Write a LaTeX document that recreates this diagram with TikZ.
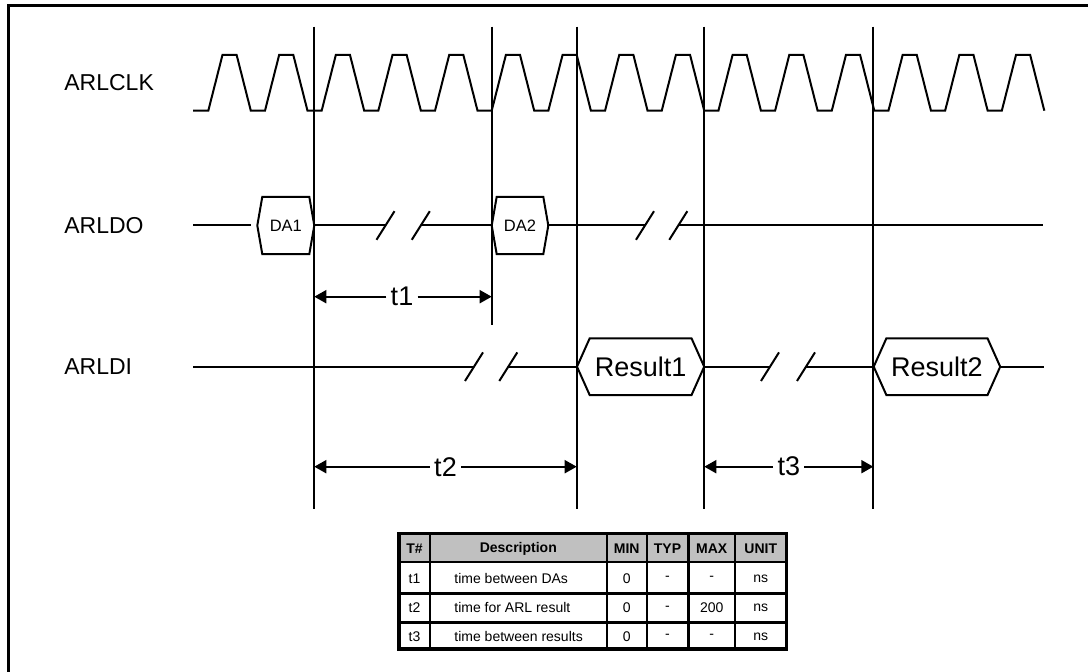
\documentclass[tikz,border=0pt]{standalone}
\usepackage{fontspec}
\setmainfont{Liberation Sans}
\usetikzlibrary{arrows.meta}
\definecolor{hdrgray}{HTML}{C0C0C0}

\begin{document}
\begin{tikzpicture}[x=0.5pt,y=-0.5pt,
		sig/.style={line width=1pt},
		dimarr/.style={line width=1pt,-{Triangle[length=6pt,width=6.5pt]}},
		lbl/.style={anchor=west,inner sep=0pt,font=\fontsize{11.5}{12}\selectfont},
		tlbl/.style={inner xsep=2pt,inner ysep=0pt,font=\fontsize{13.5}{14}\selectfont},
		tline/.style={line width=1.2pt},
		tcell/.style={inner sep=0pt,font=\fontsize{7}{8}\selectfont}]
		\useasboundingbox (0,0) rectangle (1088,672);
		\clip (0,0) rectangle (1088,672);
		%frame
			\draw[line width=1.5pt] (1100,6) -- (8,6) -- (8,690);
			
		%signal names
			\node[lbl] (clk) at (64,83) {ARLCLK};
			\node[lbl] (do) at (64,225.5) {ARLDO};
			\node[lbl] (di) at (64,366.7) {ARLDI};
			
		%clock
			\draw[sig] (193,110.7) -- (208.3,110.7)
				\foreach \k in {1,...,14}{ -- ++(14.17,-55.7) -- ++(14.17,0) -- ++(14.17,55.7) -- ++(14.17,0)}
				-- ++(14.17,-55.7) -- ++(14.17,0) -- ++(14.17,55.7);
			
		%reference lines
			\foreach \n/\x/\yb in {v1/314.3/509, v2/491.7/325, v3/576.7/509, v4/704.3/509, v5/873.3/509}{
				\coordinate (\n-top) at (\x,26.7);
				\coordinate (\n-bot) at (\x,\yb);
				\draw[sig] (\n-top) -- (\n-bot);
			}
			
		%data boxes
			\foreach \n/\xl/\xr/\yc/\hh/\sl/\fs/\txt in {da1/257.3/314.3/225.5/28.7/5/8.25/DA1, da2/491.7/548.3/225.5/28.7/5/8.25/DA2, res1/577/704.2/366.7/28.4/12.7/13.5/Result1, res2/873.7/1000.2/366.7/28.4/12.7/13.5/Result2}{
				\coordinate (\n-l) at (\xl,\yc);
				\coordinate (\n-r) at (\xr,\yc);
				\draw[sig] (\n-l) -- (\xl+\sl,\yc-\hh) -- (\xr-\sl,\yc-\hh) -- (\n-r) -- (\xr-\sl,\yc+\hh) -- (\xl+\sl,\yc+\hh) -- cycle;
				\node[inner sep=0pt] (\n) at ({(\xl+\xr)/2},\yc) {\fontsize{\fs}{\fs}\selectfont\txt};
			}
			
		%ARLDO
			\coordinate (do-start) at (193.3,225.5);
			\coordinate (do-end) at (1043,225.5);
			\coordinate (dob1) at (385.5,225.5);
			\coordinate (dob2) at (420.8,225.5);
			\coordinate (dob3) at (645,225.5);
			\coordinate (dob4) at (678.3,225.5);
			\draw[sig,shorten >=3pt] (do-start) -- (da1-l);
			\draw[sig] (da1-r) -- (dob1);
			\draw[sig] (dob2) -- (da2-l);
			\draw[sig] (da2-r) -- (dob3);
			\draw[sig] (dob4) -- (do-end);
			
		%ARLDI
			\coordinate (di-start) at (193.3,366.7);
			\coordinate (di-end) at (1044,366.7);
			\coordinate (dib1) at (474,366.7);
			\coordinate (dib2) at (508.3,366.7);
			\coordinate (dib3) at (770,366.7);
			\coordinate (dib4) at (806,366.7);
			\draw[sig] (di-start) -- (dib1);
			\draw[sig] (dib2) -- (res1-l);
			\draw[sig] (res1-r) -- (dib3);
			\draw[sig] (dib4) -- (res2-l);
			\draw[sig] (res2-r) -- (di-end);
			
		%breaks
			\foreach \c in {dob1,dob2,dob3,dob4,dib1,dib2,dib3,dib4}{
				\draw[sig] ([shift={(-9,14.3)}]\c) -- ([shift={(9,-14.3)}]\c);
			}
			
		%timing arrows
			\node[tlbl] (t1) at (402,296.7) {t1};
			\draw[dimarr] (t1) -- (v1-top |- t1);
			\draw[dimarr] (t1) -- (v2-top |- t1);
			\node[tlbl] (t2) at (445.5,466.7) {t2};
			\draw[dimarr] (t2) -- (v1-top |- t2);
			\draw[dimarr] (t2) -- (v3-top |- t2);
			\node[tlbl] (t3) at (788.8,466.7) {t3};
			\draw[dimarr] (t3) -- (v4-top |- t3);
			\draw[dimarr] (t3) -- (v5-top |- t3);
			
		%table
			\fill[hdrgray] (399,533.5) rectangle (786.7,562);
			\foreach \x in {430,606.7,646.7,688.3,735}{
				\draw[tline] (\x,533.5) -- (\x,649);
			}
			\foreach \y in {562,593.5,622.5}{
				\draw[tline] (399,\y) -- (786.7,\y);
			}
			\draw[line width=1.6pt] (399,533.5) rectangle (786.7,649);
			
			\node[tcell] (h1) at (414.5,549) {\bfseries T\#};
			\node[tcell] (h2) at (518.3,549) {\bfseries Description};
			\node[tcell] (h3) at (626.7,549) {\bfseries MIN};
			\node[tcell] (h4) at (667.5,549) {\bfseries TYP};
			\node[tcell] (h5) at (711.7,549) {\bfseries MAX};
			\node[tcell] (h6) at (760.8,549) {\bfseries UNIT};
			
			\foreach \r/\y/\tn/\desc/\mn/\ty/\mx/\un in {1/578.5/t1/time between DAs/0/-/-/ns, 2/608/t2/time for ARL result/0/-/200/ns, 3/636.5/t3/time between results/0/-/-/ns}{
				\node[tcell] (r\r-a) at (414.5,\y) {\tn};
				\node[tcell,anchor=west] (r\r-b) at (454,\y) {\desc};
				\node[tcell] (r\r-c) at (626.7,\y) {\mn};
				\node[tcell] (r\r-d) at (667.5,\y) {\ty};
				\node[tcell] (r\r-e) at (711.7,\y) {\mx};
				\node[tcell] (r\r-f) at (760.8,\y) {\un};
			}
		\end{tikzpicture}
\end{document}
